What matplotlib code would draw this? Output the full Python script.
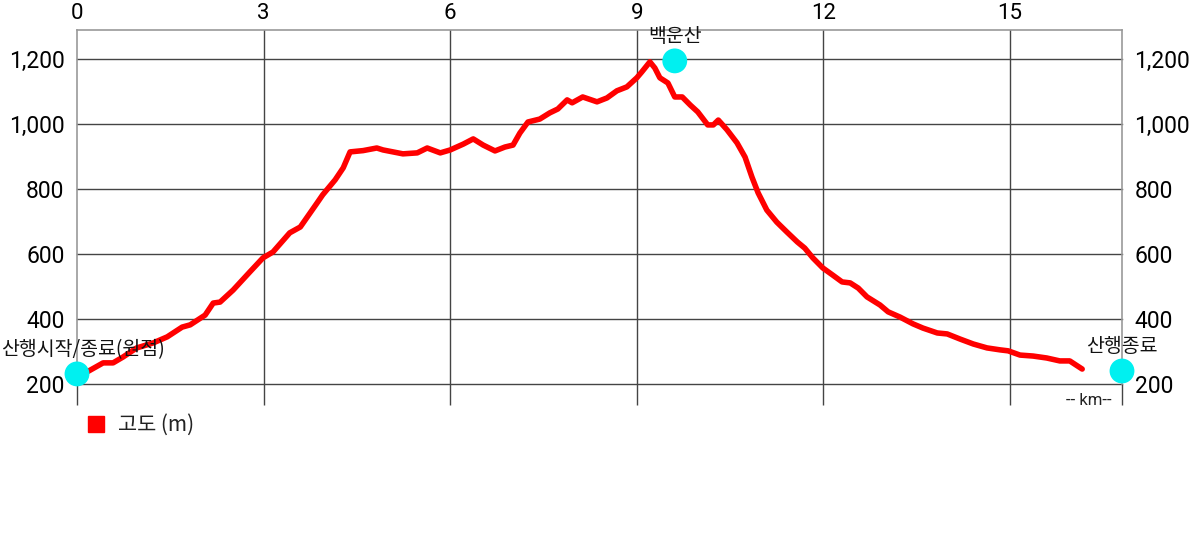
import matplotlib
matplotlib.use("Agg")
import matplotlib.pyplot as plt

plt.rcParams['font.family'] = ['Noto Sans CJK KR', 'DejaVu Sans']

# elevation profile (km, m)
dist_km = [0.05, 0.16, 0.42, 0.58, 0.74, 0.96, 1.22, 1.45, 1.69, 1.82, 2.06, 2.19, 2.30,
           2.51, 2.78, 2.99, 3.15, 3.42, 3.59, 3.86, 3.95, 4.15, 4.28, 4.39, 4.60, 4.82,
           4.92, 5.24, 5.47, 5.63, 5.84, 6.00, 6.21, 6.37, 6.53, 6.72, 6.88, 7.01, 7.12,
           7.25, 7.44, 7.60, 7.73, 7.88, 7.96, 8.13, 8.36, 8.52, 8.68, 8.84, 9.00, 9.08,
           9.21, 9.29, 9.37, 9.50, 9.61, 9.73, 9.86, 9.98, 10.14, 10.23, 10.31, 10.45,
           10.61, 10.74, 10.85, 10.95, 11.09, 11.25, 11.41, 11.58, 11.70, 11.83, 11.99,
           12.15, 12.30, 12.43, 12.56, 12.70, 12.91, 13.04, 13.23, 13.44, 13.60, 13.83,
           13.99, 14.20, 14.41, 14.63, 14.84, 14.97, 15.16, 15.37, 15.59, 15.80, 15.96,
           16.16]
elev_m = [234, 237, 265, 265, 283, 311, 326, 345, 375, 382, 412, 449, 452,
          489, 545, 588, 606, 665, 683, 757, 782, 828, 865, 914, 918, 926,
          920, 908, 911, 926, 911, 920, 938, 954, 935, 917, 929, 935, 972,
          1006, 1015, 1034, 1046, 1074, 1065, 1083, 1068, 1080, 1102, 1114, 1142, 1160,
          1191, 1172, 1142, 1126, 1083, 1083, 1058, 1037, 997, 997, 1012, 982,
          942, 898, 837, 788, 735, 698, 668, 637, 618, 588, 557,
          535, 514, 511, 495, 468, 443, 422, 406, 385, 372, 357,
          354, 338, 323, 311, 305, 302, 289, 286, 280, 271, 271,
          246]

# waypoints
wp_names = ['산행시작/종료(원점)', '백운산', '산행종료']
wp_km = [0.0, 9.61, 16.8]
wp_m = [231, 1194, 240]

x_ticks = [0, 3, 6, 9, 12, 15]
y_ticks = [200, 400, 600, 800, 1000, 1200]
x_max = 16.8
num_font = ['Roboto', 'DejaVu Sans']

fig = plt.figure(figsize=(12, 5.51), dpi=100)
ax = fig.add_axes([77 / 1200, 1 - 384 / 551, (1122 - 77) / 1200, (384 - 30) / 551])
ax.set_xlim(0, x_max)
ax.set_ylim(200, 1289)

ax.plot(dist_km, elev_m, color='#ff0000', lw=4, solid_capstyle='round',
        solid_joinstyle='round', zorder=3)

# grid
for t in y_ticks:
    ax.axhline(t, color='#444444', lw=1, zorder=1, clip_on=False)
for t in x_ticks[1:]:
    ax.axvline(t, color='#444444', lw=1, zorder=1)

for s in ['left', 'right', 'top']:
    ax.spines[s].set_color('#999999')
    ax.spines[s].set_linewidth(1.2)
ax.spines['bottom'].set_visible(False)

# bottom ticks: long marks below the plot, no labels
ax.set_xticks(x_ticks + [x_max])
ax.tick_params(axis='x', which='both', bottom=True, top=False, labelbottom=False,
               length=15, width=1, color='#444444', direction='out')
# top labels
top = ax.secondary_xaxis('top')
top.set_xticks(x_ticks)
top.tick_params(length=0, pad=4, labelsize=16)
top.spines['top'].set_visible(False)
for lb in top.get_xticklabels():
    lb.set_family(num_font)

ax.set_yticks(y_ticks)
ax.set_yticklabels([f'{t:,}' for t in y_ticks])
ax.tick_params(axis='y', length=0, pad=9, labelsize=16.5, left=True, right=True,
               labelleft=True, labelright=True)
for lb in ax.yaxis.get_ticklabels(which='both'):
    lb.set_family(num_font)
for tick in ax.yaxis.get_major_ticks():
    tick.label2.set_family(num_font)

# waypoints
ax.scatter(wp_km, wp_m, s=320, color='#00f0f0', zorder=5, clip_on=False, edgecolors='none')
for i, (name, xk, ym) in enumerate(zip(wp_names, wp_km, wp_m)):
    if i == 0:
        # start label sits against the left edge of the figure
        ax.annotate(name, (xk, ym), xytext=(-54.5, 10), textcoords='offset points',
                    ha='left', va='bottom', fontsize=14, color='#111111',
                    annotation_clip=False)
    else:
        ax.annotate(name, (xk, ym), xytext=(0, 10), textcoords='offset points',
                    ha='center', va='bottom', fontsize=14, color='#111111',
                    annotation_clip=False)

ax.text(0.99, -0.025, '-- km--', transform=ax.transAxes, ha='right', va='top',
        fontsize=12, color='#222222', family=num_font)

# legend
fig.patches.append(plt.Rectangle((88 / 1200, 1 - 432 / 551), 16 / 1200, 16 / 551,
                                 transform=fig.transFigure, color='#ff0000'))
fig.text(118 / 1200, 1 - 425 / 551, '고도 (m)', fontsize=15, va='center', ha='left',
         color='#222222')

fig.savefig('out.png', dpi=100, facecolor='white')
